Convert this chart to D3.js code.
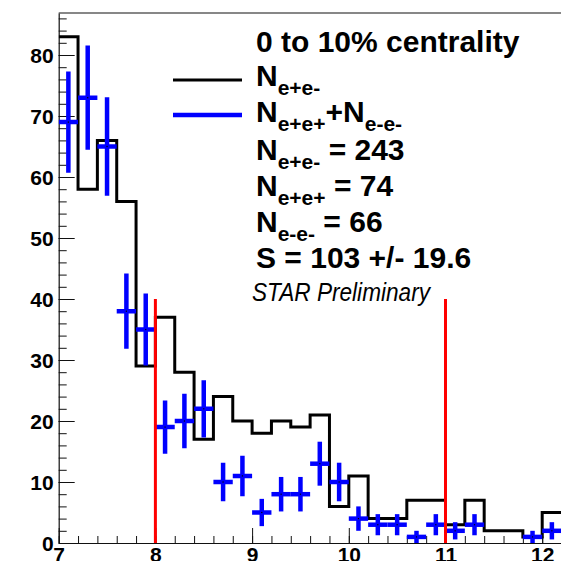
<!DOCTYPE html>
<html>
<head>
<meta charset="utf-8">
<script src="https://cdn.jsdelivr.net/npm/d3@7"></script>
<style>
  html, body { margin: 0; padding: 0; background: #fff; }
  svg { display: block; }
  text { font-family: "Liberation Sans", Arial, Helvetica, sans-serif; }
</style>
</head>
<body>
<svg id="chart" width="561" height="561"></svg>
<script>
// Invariant-mass bins (lower edges, GeV/c^2), width 0.2
const binLow = [7.0, 7.2, 7.4, 7.6, 7.8, 8.0, 8.2, 8.4, 8.6, 8.8,
                9.0, 9.2, 9.4, 9.6, 9.8, 10.0, 10.2, 10.4, 10.6, 10.8,
                11.0, 11.2, 11.4, 11.6, 11.8, 12.0];
const binWidth = 0.2;

// Unlike-sign pair counts N(e+e-)
const unlikeSign = [83, 58, 66, 56, 29, 37, 28, 17, 24, 20,
                    18, 20, 19, 21, 6, 11, 4, 4, 7, 7,
                    3, 7, 2, 2, 1, 5];

// Like-sign pair counts N(e+e+) + N(e-e-)
const likeSign = [69, 73, 65, 38, 35, 19, 20, 22, 10, 11,
                  5, 8, 8, 13, 10, 4, 3, 3, 1, 3,
                  2, 3, 0, 0, 1, 2];

// Integration window markers
const windowEdges = [8, 11];
const windowHeight = 40;

// Axis tick labels
const xTickValues = [7, 8, 9, 10, 11, 12];
const yTickValues = [0, 10, 20, 30, 40, 50, 60, 70, 80];

const svg = d3.select("#chart");
const padL = 58.7, padR = 561, padT = 13, padB = 543;

const x = d3.scaleLinear().domain([7, 7 + (padR - padL) / 96.7]).range([padL, padR]);
const y = d3.scaleLinear().domain([0, (padB - padT) / 6.1]).range([padB, padT]).clamp(true);

svg.append("defs").append("clipPath").attr("id", "plotArea")
  .append("rect").attr("x", padL).attr("y", padT)
  .attr("width", padR - padL).attr("height", padB - padT);

// Minor ticks
svg.append("g").attr("transform", `translate(0,${padB})`)
  .call(d3.axisBottom(x).tickValues(d3.range(7, 12.25, 0.2)).tickSize(-7).tickSizeOuter(0).tickFormat(""))
  .call(g => g.select(".domain").remove())
  .call(g => g.selectAll("line").attr("stroke", "#111"));
svg.append("g").attr("transform", `translate(${padL},0)`)
  .call(d3.axisLeft(y).tickValues(d3.range(0, 87, 2)).tickSize(-8).tickSizeOuter(0).tickFormat(""))
  .call(g => g.select(".domain").remove())
  .call(g => g.selectAll("line").attr("stroke", "#111"));

// Major ticks with labels
const xAxis = svg.append("g").attr("transform", `translate(0,${padB})`)
  .call(d3.axisBottom(x).tickValues(xTickValues).tickSize(-15).tickSizeOuter(0).tickPadding(4).tickFormat(d3.format("d")));
const yAxis = svg.append("g").attr("transform", `translate(${padL},0)`)
  .call(d3.axisLeft(y).tickValues(yTickValues).tickSize(-16).tickSizeOuter(0).tickPadding(5).tickFormat(d3.format("d")));

[xAxis, yAxis].forEach(g => {
  g.selectAll("line").attr("stroke", "#111").attr("stroke-width", 1);
  g.select(".domain").attr("stroke", "#111").attr("stroke-width", 1.2);
  g.selectAll("text").attr("fill", "#000").style("font-size", "21px").style("font-weight", "bold");
});
yAxis.selectAll("text").attr("dy", "0.38em");

// Frame top edge
svg.append("line").attr("x1", padL).attr("x2", padR).attr("y1", padT).attr("y2", padT)
  .attr("stroke", "#111").attr("stroke-width", 1.2);

const plot = svg.append("g").attr("clip-path", "url(#plotArea)");

// Unlike-sign histogram as a step outline
const steps = binLow.map((b, i) => [b, unlikeSign[i]]);
steps.push([binLow[binLow.length - 1] + binWidth, unlikeSign[unlikeSign.length - 1]]);
plot.append("path")
  .attr("d", d3.line().x(d => x(d[0])).y(d => y(d[1])).curve(d3.curveStepAfter)(steps))
  .attr("fill", "none").attr("stroke", "#000").attr("stroke-width", 3);

// Like-sign points with Poisson error bars
const pts = binLow.map((b, i) => ({ lo: b, v: likeSign[i] })).filter(d => d.v > 0);
const cross = plot.append("g").attr("stroke", "#0000ff").attr("stroke-width", 4.5);
cross.selectAll(".h").data(pts).join("line")
  .attr("x1", d => x(d.lo)).attr("x2", d => x(d.lo + binWidth))
  .attr("y1", d => y(d.v)).attr("y2", d => y(d.v));
cross.selectAll(".v").data(pts).join("line")
  .attr("x1", d => x(d.lo + binWidth / 2)).attr("x2", d => x(d.lo + binWidth / 2))
  .attr("y1", d => y(d.v - Math.sqrt(d.v))).attr("y2", d => y(d.v + Math.sqrt(d.v)));
plot.selectAll(".dot").data(pts).join("rect")
  .attr("x", d => x(d.lo + binWidth / 2) - 0.6).attr("y", d => y(d.v) - 0.6)
  .attr("width", 1.2).attr("height", 1.2).attr("fill", "#000");

// Mass window lines
plot.selectAll(".win").data(windowEdges).join("line")
  .attr("x1", d => x(d)).attr("x2", d => x(d))
  .attr("y1", y(0)).attr("y2", y(windowHeight))
  .attr("stroke", "#ff0000").attr("stroke-width", 3);

// Legend
const tx = 256;
const main = 30, sub = 21, shift = 9;
function label(yb, parts) {
  const t = svg.append("text").attr("x", tx).attr("y", yb)
    .style("font-size", main + "px").style("font-weight", "bold").attr("fill", "#000");
  let lvl = 0;
  parts.forEach(p => {
    const isSub = p[0] === "_";
    const s = isSub ? p.slice(1) : p;
    const target = isSub ? shift : 0;
    t.append("tspan").attr("dy", target - lvl).style("font-size", (isSub ? sub : main) + "px").text(s);
    lvl = target;
  });
}
svg.append("text").attr("x", tx).attr("y", 52)
  .style("font-size", main + "px").style("font-weight", "bold").text("0 to 10% centrality");

svg.append("line").attr("x1", 173).attr("x2", 242).attr("y1", 80).attr("y2", 80)
  .attr("stroke", "#000").attr("stroke-width", 3);
svg.append("line").attr("x1", 173).attr("x2", 242).attr("y1", 115).attr("y2", 115)
  .attr("stroke", "#0000ff").attr("stroke-width", 4.5);

label(86, ["N", "_e+e-"]);
label(122, ["N", "_e+e+", "+N", "_e-e-"]);
label(160, ["N", "_e+e-", " = 243"]);
label(196, ["N", "_e+e+", " = 74"]);
label(232, ["N", "_e-e-", " = 66"]);
label(268, ["S = 103 +/- 19.6"]);

svg.append("text").attr("x", 252).attr("y", 301)
  .attr("textLength", 178).attr("lengthAdjust", "spacingAndGlyphs")
  .style("font-size", "25px").style("font-style", "italic").text("STAR Preliminary");
</script>
</body>
</html>
